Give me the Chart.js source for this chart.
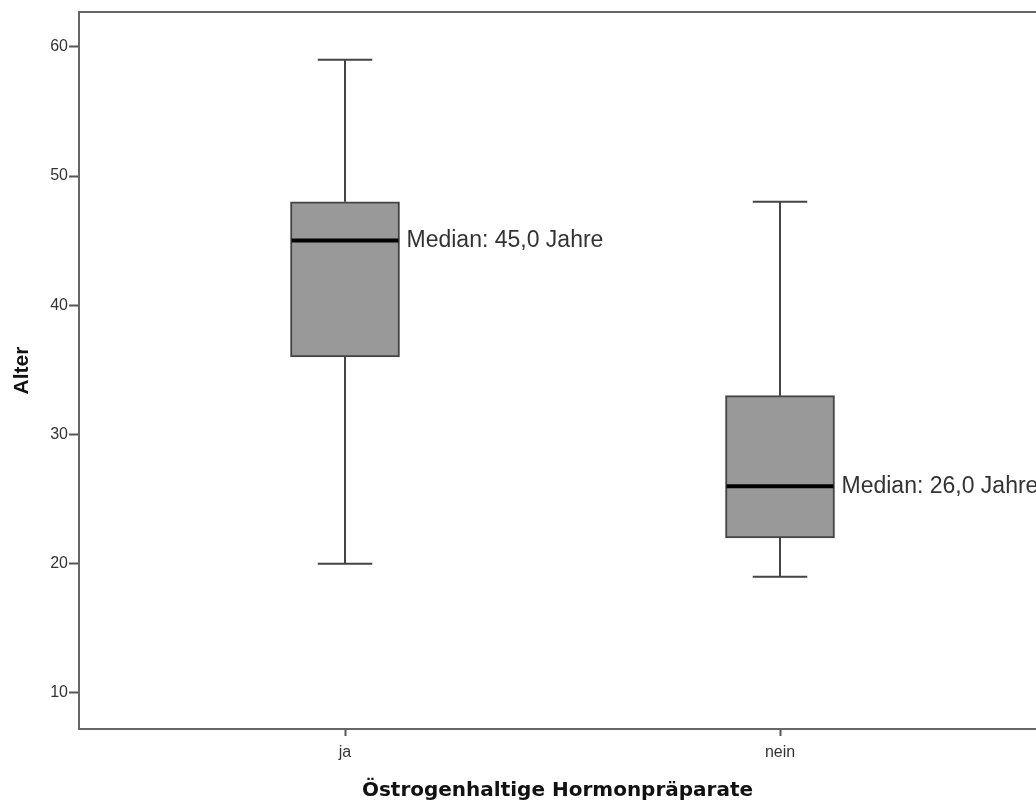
<!DOCTYPE html>
<html>
<head>
<meta charset="utf-8">
<script src="https://cdn.jsdelivr.net/npm/chart.js@4.4.1/dist/chart.umd.min.js"></script>
<style>
  html, body { margin: 0; padding: 0; background: #fff; }
  #wrap { width: 1036px; height: 802px; }
</style>
</head>
<body>
<div id="wrap"><canvas id="chart" width="1036" height="802"></canvas></div>
<script>
// categories and box statistics (Alter in Jahren)
const categories = ['ja', 'nein'];
const minVals = [20, 19];
const q1Vals = [36, 22];
const medianVals = [45, 26];
const q3Vals = [48, 33];
const maxVals = [59, 48];
const yTicks = [10, 20, 30, 40, 50, 60];

const boxData = categories.map((c, i) => ({ x: i + 1, y: [q1Vals[i], q3Vals[i]] }));

const lineColor = '#444444';

// whiskers, caps, median lines and labels
const boxExtras = {
  id: 'boxExtras',
  beforeDatasetsDraw(chart) {
    const ctx = chart.ctx;
    const xs = chart.scales.x, ys = chart.scales.y;
    const meta = chart.getDatasetMeta(0);
    ctx.save();
    ctx.strokeStyle = lineColor;
    ctx.lineWidth = 2;
    meta.data.forEach((bar, i) => {
      const cx = xs.getPixelForValue(i + 1);
      const half = bar.width / 4;
      const yMin = ys.getPixelForValue(minVals[i]);
      const yMax = ys.getPixelForValue(maxVals[i]);
      const yQ1 = ys.getPixelForValue(q1Vals[i]);
      const yQ3 = ys.getPixelForValue(q3Vals[i]);
      ctx.beginPath();
      ctx.moveTo(cx, yQ3); ctx.lineTo(cx, yMax);
      ctx.moveTo(cx, yQ1); ctx.lineTo(cx, yMin);
      ctx.moveTo(cx - half, yMax); ctx.lineTo(cx + half, yMax);
      ctx.moveTo(cx - half, yMin); ctx.lineTo(cx + half, yMin);
      ctx.stroke();
    });
    ctx.restore();
  },
  afterDatasetsDraw(chart) {
    const ctx = chart.ctx;
    const xs = chart.scales.x, ys = chart.scales.y;
    const meta = chart.getDatasetMeta(0);
    ctx.save();
    meta.data.forEach((bar, i) => {
      const cx = xs.getPixelForValue(i + 1);
      const w = bar.width / 2;
      const yMed = ys.getPixelForValue(medianVals[i]);
      ctx.strokeStyle = '#000';
      ctx.lineWidth = 4;
      ctx.beginPath();
      ctx.moveTo(cx - w + 1, yMed); ctx.lineTo(cx + w - 1, yMed);
      ctx.stroke();
      ctx.fillStyle = '#333';
      ctx.font = '23px "Liberation Sans", Arial, sans-serif';
      ctx.textBaseline = 'middle';
      ctx.textAlign = 'left';
      ctx.fillText('Median: ' + medianVals[i].toFixed(1).replace('.', ',') + ' Jahre', cx + w + 7, yMed);
    });
    // top frame line
    const a = chart.chartArea;
    ctx.strokeStyle = '#666';
    ctx.lineWidth = 2;
    ctx.beginPath();
    ctx.moveTo(a.left, a.top); ctx.lineTo(a.right, a.top);
    ctx.stroke();
    ctx.restore();
  }
};

new Chart(document.getElementById('chart'), {
  type: 'bar',
  data: {
    datasets: [{
      data: boxData,
      backgroundColor: '#999999',
      borderColor: lineColor,
      borderWidth: 2,
      borderSkipped: false,
      barThickness: 109
    }]
  },
  options: {
    responsive: false,
    animation: false,
    devicePixelRatio: 1,
    layout: { padding: { top: 12, right: 0, left: 0, bottom: 0 } },
    plugins: { legend: { display: false }, tooltip: { enabled: false } },
    scales: {
      x: {
        type: 'linear',
        offset: false,
        min: 0.3885,
        max: 2.5885,
        afterBuildTicks: (scale) => { scale.ticks = categories.map((c, i) => ({ value: i + 1 })); },
        afterFit: (scale) => { scale.height = 73; },
        ticks: {
          callback: (v) => categories[v - 1],
          color: '#333',
          font: { family: '"Liberation Sans", Arial, sans-serif', size: 16 },
          padding: 7,
          maxRotation: 0
        },
        grid: { offset: false, drawOnChartArea: false, drawTicks: true, tickLength: 7, tickColor: '#555', tickWidth: 2 },
        border: { color: '#666', width: 2 },
        title: {
          display: true,
          text: 'Östrogenhaltige Hormonpräparate',
          color: '#111',
          font: { family: '"DejaVu Sans", Verdana, sans-serif', size: 20, weight: 'bold' },
          padding: { top: 0, bottom: -1 }
        }
      },
      y: {
        min: 7.21,
        max: 62.69,
        afterBuildTicks: (scale) => { scale.ticks = yTicks.map(v => ({ value: v })); },
        afterFit: (scale) => { scale.width = 79; },
        ticks: {
          color: '#333',
          font: { family: '"Liberation Sans", Arial, sans-serif', size: 16 },
          padding: 1
        },
        grid: { drawOnChartArea: false, drawTicks: true, tickLength: 10, tickColor: '#555', tickWidth: 2 },
        border: { color: '#666', width: 2 },
        title: {
          display: true,
          text: 'Alter',
          color: '#111',
          font: { family: '"Liberation Sans", Arial, sans-serif', size: 21, weight: 'bold' },
          padding: { top: 10, bottom: 0 }
        }
      }
    }
  },
  plugins: [boxExtras]
});
</script>
</body>
</html>
